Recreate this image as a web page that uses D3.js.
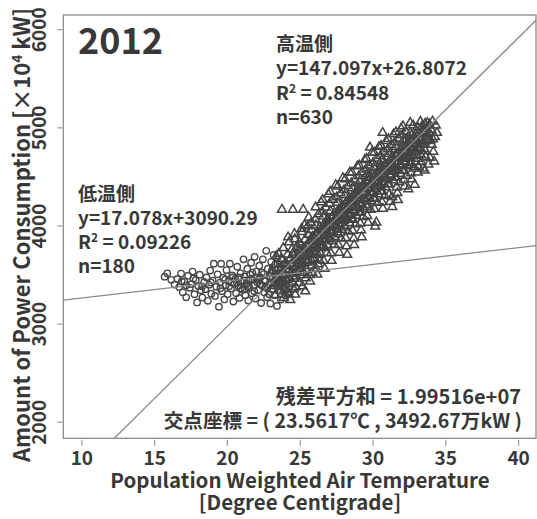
<!DOCTYPE html>
<html>
<head>
<meta charset="utf-8">
<script src="https://cdn.jsdelivr.net/npm/d3@7"></script>
<style>
  html, body { margin: 0; padding: 0; background: #fff; }
  svg { display: block; }
  text { font-family: "Noto Sans CJK JP", "Noto Sans", sans-serif; fill: #383838; }
</style>
</head>
<body>
<script>
// ---- data -------------------------------------------------------------
// High-temperature side (triangles): [temperature °C, power ×10^4 kW]
const highSide = [
  [23.04,3512],[23.18,3386],[23.27,3604],[23.33,3291],[23.46,3455],[23.39,3688],[23.12,3540],
  [23.52,3570],[23.61,3428],[23.69,3335],[23.73,3662],[23.78,4162],[23.82,3508],[23.87,3771],[23.93,3379],[23.97,3596],[23.64,3481],[23.56,3712],[23.9,3262],
  [24.03,3618],[24.08,3447],[24.14,3318],[24.17,3705],[24.22,3549],[24.26,3829],[24.31,3402],[24.38,3667],[24.42,3521],[24.47,3758],[24.11,3588],[24.35,3240],[24.2,3880],[24.45,3610],
  [24.53,4162],[24.51,3583],[24.57,3726],[24.62,3457],[24.66,3861],[24.71,3640],[24.74,3371],[24.79,3535],[24.84,3784],[24.88,3692],[24.93,3415],[24.64,3915],[24.69,3296],[24.86,3607],[24.97,3830],[24.58,3510],
  [25.02,3654],[25.07,3806],[25.09,3497],[25.16,3934],[25.19,3380],[25.24,4162],[25.27,3723],[25.31,3588],[25.36,3855],[25.41,3462],[25.44,3684],[25.13,3968],[25.22,3762],[25.33,4003],[25.48,3548],[25.06,3610],[25.38,3330],
  [25.51,3786],[25.56,3622],[25.59,3905],[25.66,3497],[25.68,3842],[25.74,3703],[25.79,4025],[25.83,3590],[25.88,3884],[25.94,3741],[25.62,4083],[25.71,3430],[25.81,3955],[25.92,3662],[25.54,3992],[25.97,3810],[25.86,3520],
  [26.02,3864],[26.04,3701],[26.11,4003],[26.14,3558],[26.19,3925],[26.23,3782],[26.29,4114],[26.34,3648],[26.38,3984],[26.43,3832],[26.09,4187],[26.21,3502],[26.31,3878],[26.41,3716],[26.07,4061],[26.47,4236],[26.26,3605],[26.49,3960],
  [26.52,3942],[26.56,3781],[26.61,4092],[26.64,3640],[26.69,4013],[26.76,3858],[26.79,4184],[26.86,3721],[26.89,4062],[26.94,3903],[26.58,4262],[26.71,3560],[26.81,3961],[26.91,3798],[26.54,4141],[26.97,4318],[26.66,3890],[26.84,4010],
  [27.01,4013],[27.06,3862],[27.11,4148],[27.14,3718],[27.21,4083],[27.24,3944],[27.29,4262],[27.36,3804],[27.39,4131],[27.44,3979],[27.09,4344],[27.19,3640],[27.31,4042],[27.41,3882],[27.04,4223],[27.47,4412],[27.26,4010],[27.17,3925],
  [27.52,4088],[27.57,3932],[27.59,4233],[27.66,3801],[27.69,4163],[27.74,4012],[27.81,4329],[27.84,3868],[27.91,4204],[27.93,4051],[27.61,4399],[27.71,3722],[27.79,4112],[27.89,3957],[27.54,4287],[27.96,4483],[27.64,4060],[27.86,4150],
  [28.01,4162],[28.06,3998],[28.09,4309],[28.16,3872],[28.19,4232],[28.24,4079],[28.31,4403],[28.33,3938],[28.39,4281],[28.46,4118],[28.12,4472],[28.21,3788],[28.29,4193],[28.41,4027],[28.04,4361],[28.44,4541],[28.26,3702],[28.14,4150],[28.36,4230],
  [28.51,4228],[28.56,4072],[28.62,4381],[28.64,3947],[28.69,4312],[28.76,4158],[28.79,4468],[28.84,4013],[28.91,4352],[28.93,4188],[28.59,4541],[28.71,3868],[28.81,4261],[28.88,4099],[28.54,4432],[28.96,4603],[28.74,3802],[28.66,4240],[28.86,4300],
  [29.02,4302],[29.04,4139],[29.11,4452],[29.16,4021],[29.19,4383],[29.24,4228],[29.29,4542],[29.36,4088],[29.41,4418],[29.43,4272],[29.09,4612],[29.21,3952],[29.31,4337],[29.39,4171],[29.06,4502],[29.47,4668],[29.26,3881],[29.14,4300],[29.34,4390],
  [29.51,4372],[29.57,4208],[29.61,4523],[29.64,4098],[29.71,4448],[29.74,4303],[29.79,4611],[29.86,4162],[29.89,4492],[29.94,4338],[29.59,4681],[29.69,4028],[29.81,4412],[29.91,4248],[29.54,4572],[29.96,4742],[29.83,4795],[29.66,4380],[29.76,4460],
  [30.01,4438],[30.06,4281],[30.09,4592],[30.14,4168],[30.21,4518],[30.24,4372],[30.31,4683],[30.34,4231],[30.39,4562],[30.46,4409],[30.11,4741],[30.18,3990],[30.29,4481],[30.41,4318],[30.04,4638],[30.44,4802],[30.26,4032],[30.16,4450],[30.36,4520],
  [30.51,4512],[30.56,4348],[30.61,4661],[30.66,4238],[30.69,4592],[30.74,4441],[30.81,4752],[30.84,4302],[30.89,4628],[30.96,4478],[30.59,4812],[30.71,4172],[30.79,4551],[30.91,4389],[30.54,4709],[30.94,4861],[30.7,4945],[30.64,4520],[30.86,4560],
  [31.01,4583],[31.04,4421],[31.11,4732],[31.14,4312],[31.19,4661],[31.26,4508],[31.29,4822],[31.34,4290],[31.36,4190],[31.39,4702],[31.46,4548],[31.09,4881],[31.21,4243],[31.31,4621],[31.41,4462],[31.06,4778],[31.44,4929],[31.24,4590],[31.16,4520],
  [31.51,4648],[31.56,4489],[31.59,4802],[31.66,4388],[31.69,4731],[31.76,4581],[31.79,4888],[31.84,4442],[31.91,4768],[31.94,4619],[31.61,4951],[31.71,4331],[31.81,4692],[31.89,4528],[31.54,4849],[31.96,4988],[31.74,4260],[31.64,4700],
  [32.01,4721],[32.06,4558],[32.11,4869],[32.14,4462],[32.19,4801],[32.26,4652],[32.29,4958],[32.36,4508],[32.39,4838],[32.44,4692],[32.09,5012],[32.21,4398],[32.31,4762],[32.41,4603],[32.04,4919],[32.46,4371],[32.24,4740],[32.34,4880],
  [32.51,4798],[32.56,4641],[32.61,4942],[32.64,4533],[32.71,4872],[32.74,4718],[32.79,5021],[32.86,4582],[32.88,4908],[32.9,4416],[32.94,4762],[32.59,5048],[32.69,4471],[32.81,4831],[32.96,4652],[32.66,4800],
  [33.01,4868],[33.06,4712],[33.09,5002],[33.16,4598],[33.19,4938],[33.26,4792],[33.29,5058],[33.36,4648],[33.41,4962],[33.44,4831],[33.11,4541],[33.31,4722],[33.46,4582],[33.22,4880],[33.39,5010],
  [33.51,4942],[33.56,4781],[33.61,5038],[33.64,4702],[33.71,4991],[33.77,5045],[33.79,4862],[33.84,4621],[33.89,4948],[33.95,4690],[33.59,4560],[33.74,4910],[33.92,5030],
  [34.02,4978],[34.07,4822],[34.12,5061],[34.18,4752],[34.29,4902],[34.43,4945],[34.24,4652],[34.35,5020],[34.15,4880],
  [24.6,3700],[24.9,3640],[25.2,3680],[25.45,3790],[25.7,3760],[25.95,3880],[26.15,3830],[26.4,3900],[26.6,3950],[26.85,3990],[27.05,3950],[27.3,4100],[27.5,4010],[27.75,4150],
  [27.95,4100],[28.2,4160],[28.45,4250],[28.65,4200],[28.85,4330],[29.05,4260],[29.3,4400],[29.5,4330],[29.7,4490],[29.9,4420],[30.1,4500],[30.3,4430],[30.5,4580],[30.7,4520],
  [30.9,4610],[31.1,4560],[31.3,4690],[31.5,4600],[31.7,4650],[31.9,4710],[32.1,4680],[32.3,4810],[32.5,4740],[32.7,4920],[32.9,4840],[33.1,4790],[33.3,4900],[33.5,4860],
  [25.03,3561],[25.62,3648],[26.01,3722],[26.53,3797],[27.04,3868],[27.58,3963],[28.02,4048],[28.53,4112],[29.03,4183],[29.58,4249],[30.03,4331],[30.57,4398],[31.03,4472],
  [31.57,4561],[32.03,4607],[32.57,4693],[33.03,4757],[33.57,4832],
  [24.72,3590],[24.95,3740],[25.18,3620],[25.39,3760],[25.58,3700],[25.77,3860],[25.99,3790],[26.18,3900],[26.36,3800],[26.57,3990],[26.77,3920],[26.98,4060],
  [27.16,3990],[27.37,4040],[27.56,4130],[27.78,4060],[27.97,4200],[28.17,4100],[28.38,4180],[28.57,4290],[28.77,4230],[28.97,4370],[29.17,4280],[29.37,4330],
  [29.56,4440],[29.78,4380],[29.97,4520],[30.17,4390],[30.37,4460],[30.58,4610],[30.77,4500],[30.97,4560],[31.18,4610],[31.38,4580],[31.58,4720],[31.78,4650],
  [31.98,4790],[32.18,4700],[32.38,4750],[32.58,4860],[32.78,4780],[32.98,4930],[33.18,4820],[33.38,4880],[33.58,4980],[33.78,4930],[33.98,4870],
  [25.28,3520],[25.82,3640],[26.27,3700],[26.73,3770],[27.22,3840],[27.68,3910],[28.13,3980],[28.63,4060],[29.13,4130],[29.63,4190],[30.13,4270],[30.63,4350],
  [31.13,4420],[31.63,4490],[32.13,4560],[32.63,4620],[33.13,4680],[33.63,4760],
  [23.25,3420],[23.5,3380],[23.75,3440],[24.0,3500],[24.25,3460],[24.5,3420],[24.75,3480],[24.25,3300],[23.95,3350],[24.6,3350]
];

// Low-temperature side (circles): [temperature °C, power ×10^4 kW]
const lowSide = [
  [15.72,3478],[15.9,3512],[16.18,3446],[16.41,3398],
  [16.6,3455],[16.72,3372],[16.85,3510],[16.97,3320],[17.08,3430],[17.2,3268],[17.33,3488],[17.45,3365],
  [17.55,3402],[17.64,3530],[17.77,3300],[17.86,3445],[17.95,3216],[18.04,3382],[18.13,3498],[18.22,3340],[18.31,3265],[18.44,3425],
  [18.52,3350],[18.6,3470],[18.69,3232],[18.77,3395],[18.85,3540],[18.93,3305],[19.02,3438],[19.1,3610],[19.18,3282],[19.27,3376],[19.36,3502],[19.45,3172],
  [19.53,3418],[19.6,3610],[19.66,3330],[19.74,3468],[19.82,3246],[19.9,3392],[19.97,3545],[20.05,3300],[20.12,3432],[20.2,3610],[20.28,3358],[20.36,3490],[20.44,3225],[20.5,3405],
  [20.57,3455],[20.63,3310],[20.71,3580],[20.78,3385],[20.86,3262],[20.93,3512],[21.0,3420],[21.07,3345],[21.14,3655],[21.2,3480],[21.27,3290],[21.33,3402],[21.4,3560],[21.46,3235],[21.49,3442],
  [21.54,3368],[21.6,3498],[21.66,3620],[21.72,3310],[21.78,3445],[21.85,3392],[21.9,3680],[21.97,3255],[22.03,3530],[22.09,3420],[22.15,3342],[22.22,3590],[22.28,3470],[22.35,3210],[22.41,3388],[22.47,3655],
  [22.53,3505],[22.58,3318],[22.64,3432],[22.7,3742],[22.76,3268],[22.81,3560],[22.87,3395],[22.93,3480],[22.98,3205],[23.04,3630],[23.1,3350],[23.15,3458],[23.21,3700],[23.27,3290],[23.33,3545],[23.38,3412],[23.44,3180],[23.49,3610],
  [23.54,3468],[23.6,3335],[23.66,3580],[23.71,3245],[23.77,3420],[23.83,3650],[23.88,3375],[23.94,3510],[24.0,3290],[24.07,3440],[24.15,3560],[24.22,3320],
  [19.55,3360],[19.88,3450],[20.15,3380],[20.4,3470],[20.68,3420],[20.95,3360],[21.18,3440],[21.42,3380],[21.63,3455],[21.88,3330],[22.06,3470],[22.3,3400],
  [22.55,3440],[22.78,3360],[23.0,3480],[23.22,3410],[23.46,3500],[23.68,3390],[23.9,3450],[24.1,3400],[18.9,3420],[18.3,3380],[17.7,3460],[17.2,3390],[16.9,3430],
  [20.82,3470],[21.24,3350],[21.75,3520],[22.18,3450],[22.62,3370],[23.08,3540],[23.56,3420],[23.98,3610],[22.9,3300],[22.4,3520]
];

// Fitted lines: [slope, intercept]
const highFit = [147.097, 26.8072];
const lowFit = [17.078, 3090.29];

const xTicks = [10, 15, 20, 25, 30, 35, 40];
const yTicks = [2000, 3000, 4000, 5000, 6000];

const yearLabel = "2012";
const highNotes = ["高温側", "y=147.097x+26.8072", ["R", "2", " = 0.84548"], "n=630"];
const lowNotes = ["低温側", "y=17.078x+3090.29", ["R", "2", " = 0.09226"], "n=180"];
const residualNote = "残差平方和 = 1.99516e+07";
const crossNote = "交点座標 = ( 23.5617℃ , 3492.67万kW )";

// ---- layout ----------------------------------------------------------
const W = 537, H = 519;
const box = { left: 63.3, right: 536, top: 15, bottom: 438.3 };
const ink = "#3a3a3a";

const x = d3.scaleLinear().domain([8.76, 41.23]).range([box.left, box.right]);
const y = d3.scaleLinear().domain([1831, 6145]).range([box.bottom, box.top]);

const svg = d3.select("body").append("svg").attr("width", W).attr("height", H);

svg.append("defs").append("clipPath").attr("id", "plot-clip")
  .append("rect")
  .attr("x", box.left).attr("y", box.top)
  .attr("width", box.right - box.left).attr("height", box.bottom - box.top);

// axes (ticks only, the frame is drawn separately)
const xAxis = svg.append("g")
  .attr("transform", `translate(0,${box.bottom + 1.5})`)
  .call(d3.axisBottom(x).tickValues(xTicks).tickSize(6).tickPadding(6).tickFormat(d3.format("d")));
xAxis.select(".domain").remove();
xAxis.selectAll(".tick line").attr("stroke", "#999").attr("stroke-width", 1.2);
xAxis.selectAll(".tick text").attr("font-size", 19).attr("font-weight", 700).attr("fill", ink);

const yAxis = svg.append("g")
  .attr("transform", `translate(${box.left - 1},0)`)
  .call(d3.axisLeft(y).tickValues(yTicks).tickSize(5).tickPadding(0).tickFormat(d3.format("d")));
yAxis.select(".domain").remove();
yAxis.selectAll(".tick line").attr("stroke", "#999").attr("stroke-width", 1.2);
yAxis.selectAll(".tick text")
  .attr("font-size", 19)
  .attr("font-weight", 700)
  .attr("fill", ink)
  .attr("text-anchor", "middle")
  .attr("x", 0).attr("dy", 0)
  .attr("transform", "translate(-16,0) rotate(-90)");

// frame
svg.append("rect")
  .attr("x", box.left).attr("y", box.top)
  .attr("width", box.right - box.left).attr("height", box.bottom - box.top)
  .attr("fill", "none").attr("stroke", "#8a8a8a").attr("stroke-width", 1.3);

// points
const plot = svg.append("g").attr("clip-path", "url(#plot-clip)");

plot.append("g").selectAll("circle").data(lowSide).join("circle")
  .attr("cx", d => x(d[0])).attr("cy", d => y(d[1])).attr("r", 3.2)
  .attr("fill", "none").attr("stroke", "#484848").attr("stroke-width", 1.4);

const tri = d3.symbol(d3.symbolTriangle, 34);
plot.append("g").selectAll("path").data(highSide).join("path")
  .attr("d", tri)
  .attr("transform", d => `translate(${x(d[0])},${y(d[1])})`)
  .attr("fill", "none").attr("stroke", "#444").attr("stroke-width", 1.5);

// regression lines across the full range
[highFit, lowFit].forEach(([m, b]) => {
  const [x0, x1] = x.domain();
  plot.append("line")
    .attr("x1", x(x0)).attr("y1", y(m * x0 + b))
    .attr("x2", x(x1)).attr("y2", y(m * x1 + b))
    .attr("stroke", "#8a8a8a").attr("stroke-width", 1.3);
});

// year
svg.append("text").attr("x", 78).attr("y", 54)
  .attr("font-size", 36).attr("font-weight", 700).attr("fill", ink).text(yearLabel);

// annotation blocks
function noteBlock(lines, x0, y0, step) {
  const g = svg.append("g");
  lines.forEach((ln, i) => {
    const t = g.append("text").attr("x", x0).attr("y", y0 + i * step)
      .attr("font-size", 19).attr("font-weight", 700).attr("fill", ink);
    if (Array.isArray(ln)) {
      t.append("tspan").text(ln[0]);
      t.append("tspan").attr("font-size", 12).attr("dy", -7).text(ln[1]);
      t.append("tspan").attr("dy", 7).text(ln[2]);
    } else {
      t.text(ln);
    }
  });
}
noteBlock(highNotes, 276, 51, 24.3);
noteBlock(lowNotes, 78, 201, 24);

svg.append("text").attr("x", 521).attr("y", 404).attr("text-anchor", "end")
  .attr("font-size", 20).attr("font-weight", 700).attr("fill", ink).text(residualNote);
svg.append("text").attr("x", 522).attr("y", 428).attr("text-anchor", "end")
  .attr("font-size", 19.6).attr("font-weight", 700).attr("fill", ink).text(crossNote);

// axis titles
svg.append("text").attr("x", 300).attr("y", 488).attr("text-anchor", "middle")
  .attr("font-size", 20.5).attr("font-weight", 700).attr("fill", ink).text("Population Weighted Air Temperature");
svg.append("text").attr("x", 300).attr("y", 510).attr("text-anchor", "middle")
  .attr("font-size", 20.5).attr("font-weight", 700).attr("fill", ink).text("[Degree Centigrade]");

const yTitle = svg.append("text")
  .attr("transform", "translate(30,235) rotate(-90)")
  .attr("text-anchor", "middle")
  .attr("font-size", 22).attr("font-weight", 700).attr("fill", ink);
yTitle.append("tspan").text("Amount of Power Consumption [×10");
yTitle.append("tspan").attr("font-size", 13.5).attr("dy", -8).text("4");
yTitle.append("tspan").attr("dy", 8).text(" kW]");
</script>
</body>
</html>
